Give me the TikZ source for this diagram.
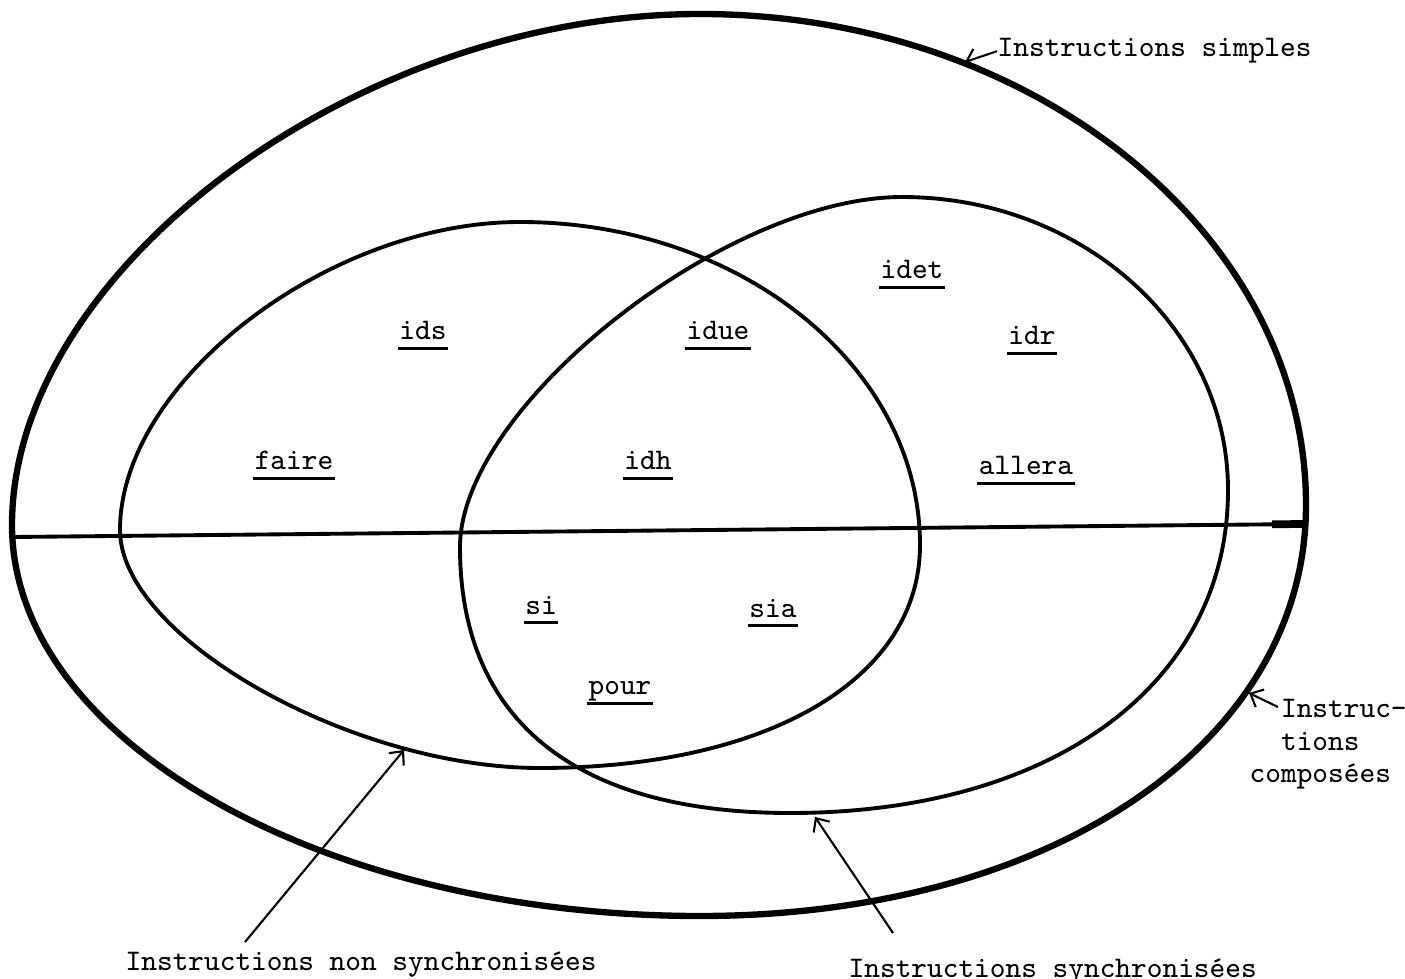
\documentclass[tikz,border=0pt]{standalone}
\usepackage{fontspec}
\usetikzlibrary{arrows.meta}
% underlined keyword: rule set a little below the descenders
\newcommand{\uword}[1]{\setbox0=\hbox{#1}\rlap{\kern-0.06em\rule[-0.32em]{\dimexpr\wd0+0.12em\relax}{0.075em}}\box0}
\begin{document}
\begin{tikzpicture}[x=0.01cm,y=-0.01cm,
  outerline/.style={line width=1.8pt, line join=round},
  loopline/.style={line width=1.1pt, line join=round},
  divider/.style={line width=1.1pt},
  pointer/.style={line width=0.6pt, -{Straight Barb[length=3pt,width=5.5pt,line width=0.6pt]}},
  caption/.style={font=\ttfamily\fontsize{8.5}{9.1}\selectfont, inner sep=0pt},
  kw/.style={caption, anchor=base}]
\useasboundingbox (0,0) rectangle (1405,979);

% outer egg: all instructions
\draw[outerline] (12,525)
  .. controls (12,270) and (356,14) .. (700,14)
  .. controls (1034,14) and (1306,234) .. (1306,505)
  .. controls (1306,743) and (1051,916) .. (700,916)
  .. controls (322,916) and (12,740) .. (12,525) -- cycle;

% horizontal divider: simple (above) / composed (below)
\draw[divider] (14,537) -- (1305,524);
\draw[line width=2.2pt] (1272,524.3) -- (1303,524);

% non-synchronised instructions
\draw[loopline] (120,530)
  .. controls (120,382) and (328,222) .. (520,222)
  .. controls (741,222) and (920,367) .. (920,545)
  .. controls (920,679) and (768,768) .. (540,768)
  .. controls (351,768) and (120,637) .. (120,530) -- cycle;

% synchronised instructions
\draw[loopline] (902,197)
  .. controls (1082,197) and (1228,328) .. (1228,490)
  .. controls (1228,684) and (1053,813) .. (790,813)
  .. controls (575,813) and (460,720) .. (460,547)
  .. controls (460,407) and (725,197) .. (902,197) -- cycle;

% keywords
\node[kw] (ids)    at (423,340) {\uword{ids}};
\node[kw] (faire)  at (294,470) {\uword{faire}};
\node[kw] (idue)   at (718,340) {\uword{idue}};
\node[kw] (idh)    at (648,470) {\uword{idh}};
\node[kw] (idet)   at (912,279) {\uword{idet}};
\node[kw] (idr)    at (1032,345) {\uword{idr}};
\node[kw] (allera) at (1026,475) {\uword{allera}};
\node[kw] (si)     at (541,614) {\uword{si}};
\node[kw] (sia)    at (773,617) {\uword{sia}};
\node[kw] (pour)   at (620,695) {\uword{pour}};

% captions
\node[caption, anchor=base west] (simples) at (997,57) {Instructions simples};
\node[caption, anchor=base west] (nonsync) at (125,970) {Instructions non synchronisées};
\node[caption, anchor=base west] (sync) at (848,977) {Instructions synchronisées};
\node[caption, anchor=base west, align=left] (composees) at (1249,782)
  {~~Instruc-\\~~tions\\composées};

% pointers from captions to the curves
\coordinate (tipSimples) at (965,62);
\coordinate (tipComp) at (1249,693);
\coordinate (tailComp) at (1278,707);
\coordinate (tailNonsync) at (245,942);
\coordinate (tipNonsync) at (404,750);
\coordinate (tailSync) at (893,933);
\coordinate (tipSync) at (815,817);
\draw[pointer] (simples.west) -- (tipSimples);
\draw[pointer] (tailComp) -- (tipComp);
\draw[pointer] (tailNonsync) -- (tipNonsync);
\draw[pointer] (tailSync) -- (tipSync);
\end{tikzpicture}
\end{document}
